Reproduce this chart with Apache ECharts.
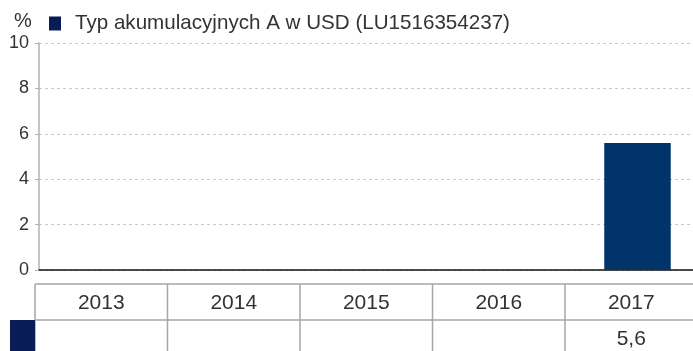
<!DOCTYPE html>
<html>
<head>
<meta charset="utf-8">
<script src="https://cdn.jsdelivr.net/npm/echarts@6/dist/echarts.min.js"></script>
<style>
  html, body { margin: 0; padding: 0; background: #fff; overflow: hidden; }
  #chart { width: 704px; height: 351px; }
</style>
</head>
<body>
<div id="chart"></div>
<script>
// Annual returns, accumulation share class A in USD
const years = ['2013', '2014', '2015', '2016', '2017'];
const returns = [null, null, null, null, 5.6];
const seriesName = 'Typ akumulacyjnych A w USD (LU1516354237)';
const yTicks = [0, 2, 4, 6, 8, 10];

const FONT = 'Liberation Sans, Arial, sans-serif';
const TEXT = '#333333';
const BAR = '#00346b';
const MARK = '#0a1c55';
const LINE = '#a6a6a6';

const chart = echarts.init(document.getElementById('chart'));

// Table geometry under the plot
const tblTop = 284, rowSplit = 320, tblBottom = 351;
const colEdges = [35, 167.5, 300, 432.5, 565, 697.5];

function fmt(v) {
  return v == null ? '' : String(v).replace('.', ',');
}

const graphics = [];
// "%" unit label
graphics.push({
  type: 'text', left: 14, top: 11,
  style: { text: '%', font: '20px ' + FONT, fill: TEXT }
});
// horizontal table lines
graphics.push({ type: 'line', shape: { x1: 35, y1: tblTop, x2: 704, y2: tblTop }, style: { stroke: LINE, lineWidth: 1.5 } });
graphics.push({ type: 'line', shape: { x1: 35, y1: rowSplit, x2: 704, y2: rowSplit }, style: { stroke: LINE, lineWidth: 1.5 } });
// vertical table lines
colEdges.forEach(x => {
  graphics.push({ type: 'line', shape: { x1: x, y1: tblTop, x2: x, y2: tblBottom }, style: { stroke: LINE, lineWidth: 1.5 } });
});
// series marker in the value row
graphics.push({ type: 'rect', shape: { x: 10, y: rowSplit, width: 25, height: tblBottom - rowSplit }, style: { fill: MARK } });
// year header and value cells
years.forEach((y, i) => {
  const cx = (colEdges[i] + colEdges[i + 1]) / 2;
  graphics.push({
    type: 'text', x: cx, y: (tblTop + rowSplit) / 2 + 1,
    style: { text: y, font: '21px ' + FONT, fill: TEXT, align: 'center', verticalAlign: 'middle' }
  });
  graphics.push({
    type: 'text', x: cx, y: (rowSplit + tblBottom) / 2 + 4,
    style: { text: fmt(returns[i]), font: '21px ' + FONT, fill: TEXT, align: 'center', verticalAlign: 'middle' }
  });
});

chart.setOption({
  animation: false,
  backgroundColor: '#fff',
  textStyle: { fontFamily: FONT },
  legend: {
    left: 49, top: 13, padding: 0,
    icon: 'rect', itemWidth: 12, itemHeight: 14,
    textStyle: { fontSize: 20.6, color: TEXT, fontFamily: FONT, padding: [0, 0, 0, 9] },
    data: [{ name: seriesName, itemStyle: { color: MARK } }]
  },
  grid: { left: 39, top: 43, right: 0, bottom: 81, containLabel: false },
  xAxis: {
    type: 'category',
    data: years,
    axisLine: { show: true, lineStyle: { color: '#111', width: 1.5 } },
    axisTick: { show: false },
    axisLabel: { show: false },
    splitLine: { show: false }
  },
  yAxis: {
    type: 'value',
    min: yTicks[0], max: yTicks[yTicks.length - 1], interval: 2,
    axisLine: { show: true, lineStyle: { color: '#b0b0b0', width: 1.5 } },
    axisTick: { show: true, length: 4, lineStyle: { color: '#b0b0b0' } },
    axisLabel: { fontSize: 18, color: TEXT, fontFamily: FONT, margin: 10 },
    splitLine: { show: true, lineStyle: { color: '#c8c8c8', type: [3, 3], width: 1 } }
  },
  series: [{
    name: seriesName,
    type: 'bar',
    data: returns,
    barWidth: '50%',
    itemStyle: { color: BAR }
  }],
  graphic: graphics
});
</script>
</body>
</html>
